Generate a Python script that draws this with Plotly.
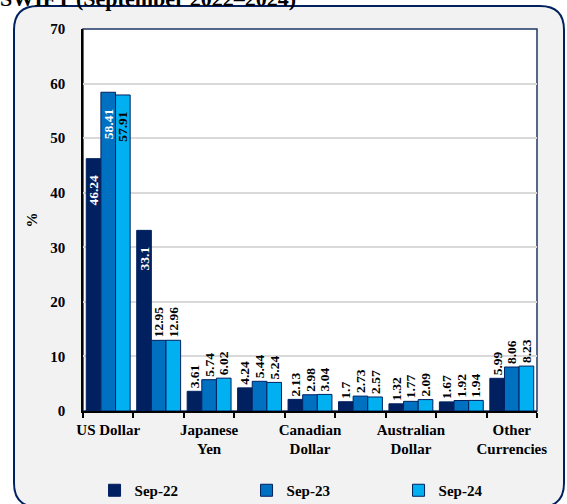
import plotly.graph_objects as go

# ---- data ----
categories = ["US Dollar", "Euro", "Japanese Yen", "Pound Sterling", "Canadian Dollar",
              "Chinese Yuan", "Australian Dollar", "Swiss Franc", "Other Currencies"]
tick_labels = ["US Dollar", "", "Japanese<br>Yen", "", "Canadian<br>Dollar",
               "", "Australian<br>Dollar", "", "Other<br>Currencies"]
sep22 = [46.24, 33.1, 3.61, 4.24, 2.13, 1.7, 1.32, 1.67, 5.99]
sep23 = [58.41, 12.95, 5.74, 5.44, 2.98, 2.73, 1.77, 1.92, 8.06]
sep24 = [57.91, 12.96, 6.02, 5.24, 3.04, 2.57, 2.09, 1.94, 8.23]
series_names = ["Sep-22", "Sep-23", "Sep-24"]
colors = ["#002060", "#0070C0", "#00B0F0"]
inside_counts = [2, 1, 1]          # leading bars whose labels sit inside
inside_colors = ["white", "white", "black"]

FONT = "Liberation Serif"
W, H = 567, 504
L, R, T, B = 83, 30, 29, 93
PW, PH = W - L - R, H - T - B
PAD = "\u00a0" * 4   # keeps inside labels a little below the bar top, as in Excel


def px(x):
    return (x - L) / PW


def py(y):
    return (H - B - y) / PH


fig = go.Figure()
for name, vals, col, nin, icol in zip(series_names, [sep22, sep23, sep24], colors,
                                     inside_counts, inside_colors):
    fig.add_trace(go.Bar(
        x=categories, y=vals, name=name,
        marker=dict(color=col, line=dict(color="#002060", width=1)),
        text=[f"{v:g}" + (PAD if i < nin else "") for i, v in enumerate(vals)],
        textposition=["inside" if i < nin else "outside" for i in range(len(vals))],
        insidetextanchor="end",
        textangle=-90,
        constraintext="none",
        cliponaxis=False,
        textfont=dict(family=FONT, size=13.5, color="black", weight="bold"),
        insidetextfont=dict(family=FONT, size=13.5, color=icol, weight="bold"),
        outsidetextfont=dict(family=FONT, size=13.5, color="black", weight="bold"),
        hoverinfo="skip",
    ))


def rrect(x0, y0, x1, y1, r):
    X0, X1 = px(x0), px(x1)
    Y0, Y1 = py(y0), py(y1)
    rx, ry = r / PW, r / PH
    return (f"M {X0+rx} {Y0} L {X1-rx} {Y0} Q {X1} {Y0} {X1} {Y0-ry} "
            f"L {X1} {Y1+ry} Q {X1} {Y1} {X1-rx} {Y1} "
            f"L {X0+rx} {Y1} Q {X0} {Y1} {X0} {Y1+ry} "
            f"L {X0} {Y0-ry} Q {X0} {Y0} {X0+rx} {Y0} Z")


shapes = [
    dict(type="path", xref="paper", yref="paper", path=rrect(14, 6, 564, 507, 24),
         fillcolor="#F2F2F2", line=dict(color="#002060", width=2), layer="below"),
    dict(type="rect", xref="paper", yref="paper", x0=0, x1=1, y0=0, y1=1,
         fillcolor="white", line=dict(color="#1F3864", width=1.5), layer="below"),
]

fig.update_layout(
    width=W, height=H,
    margin=dict(l=L, r=R, t=T, b=B, autoexpand=False),
    paper_bgcolor="white", plot_bgcolor="white",
    barmode="group", bargap=0.13, bargroupgap=0,
    font=dict(family=FONT, size=15, color="black", weight="bold"),
    shapes=shapes,
    showlegend=True,
    legend=dict(orientation="h", x=-0.001, xanchor="left", y=py(507), yanchor="bottom",
                entrywidth=95, entrywidthmode="pixels", indentation=12,
                font=dict(family=FONT, size=15, color="black", weight="bold"),
                bgcolor="rgba(0,0,0,0)", itemclick=False),
    annotations=[dict(text="SWIFT (September 2022\u20132024)", xref="paper", yref="paper",
                      x=px(-2), xanchor="left", y=py(13), yanchor="bottom",
                      showarrow=False,
                      font=dict(family=FONT, size=22, color="black", weight="bold"))],
)

fig.update_xaxes(
    type="category", tickmode="array", tickvals=categories, ticktext=tick_labels,
    tickson="boundaries", ticks="outside", ticklen=5, tickcolor="black", tickwidth=1.5,
    tickangle=0, ticklabelstandoff=4, automargin=False,
    showline=True, linecolor="black", linewidth=1.5, showgrid=False,
    tickfont=dict(family=FONT, size=15, color="black", weight="bold"),
    fixedrange=True,
)
fig.update_yaxes(
    range=[0, 70], dtick=10, tick0=0, automargin=False,
    showline=True, linecolor="black", linewidth=1.5,
    showgrid=True, gridcolor="#D9D9D9", gridwidth=1.5, zeroline=False,
    ticks="", ticklabelstandoff=13,
    tickfont=dict(family=FONT, size=15, color="black", weight="bold"),
    title=dict(text="%", standoff=9,
               font=dict(family=FONT, size=15, color="black", weight="bold")),
    fixedrange=True,
)

fig.write_html("out.html", config=dict(displayModeBar=False))
